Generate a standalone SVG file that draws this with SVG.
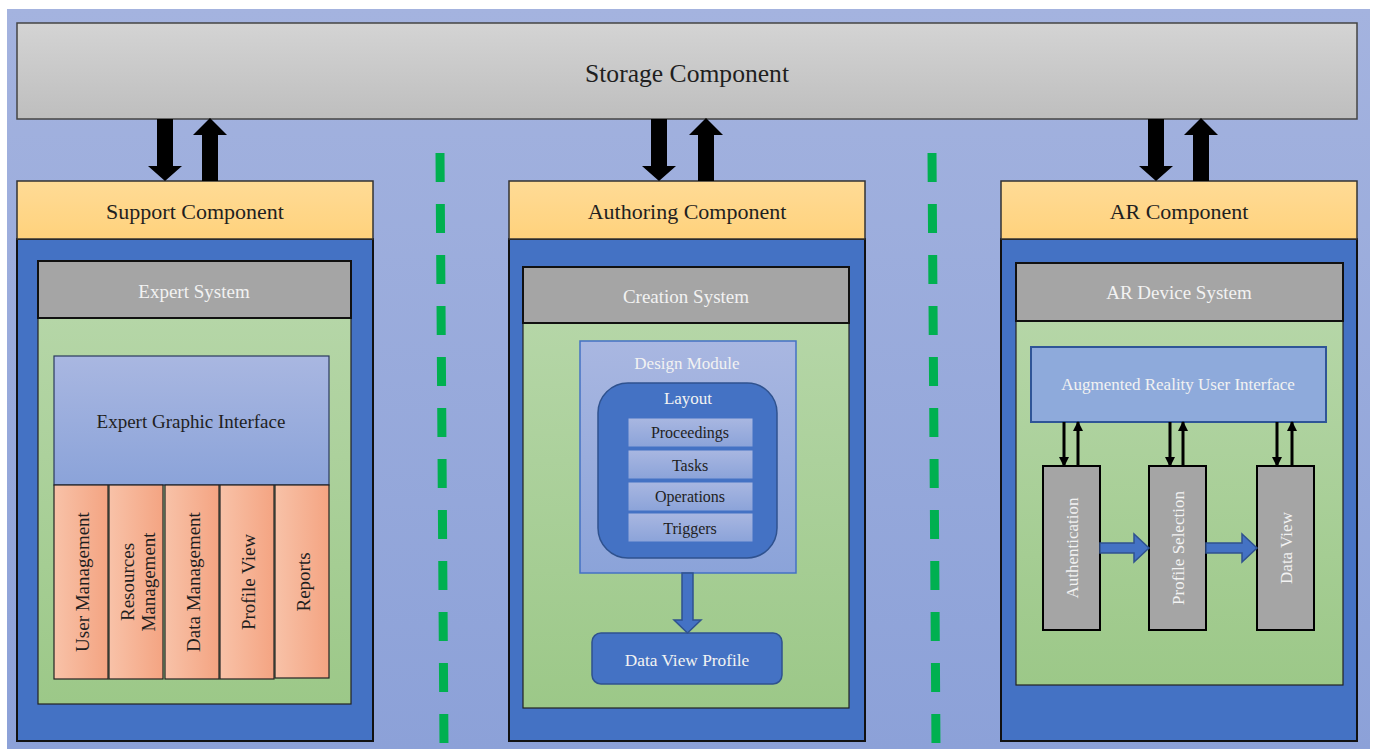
<svg xmlns="http://www.w3.org/2000/svg" width="1373" height="749" viewBox="0 0 1373 749" font-family="'Liberation Serif', 'Times New Roman', Times, serif">
<defs>
<linearGradient id="gBg" x1="0" y1="0" x2="0" y2="1"><stop offset="0" stop-color="#A4B3DF"/><stop offset="1" stop-color="#8CA1D8"/></linearGradient>
<linearGradient id="gStore" x1="0" y1="0" x2="0" y2="1"><stop offset="0" stop-color="#D4D4D4"/><stop offset="1" stop-color="#BEBEBE"/></linearGradient>
<linearGradient id="gHead" x1="0" y1="0" x2="0" y2="1"><stop offset="0" stop-color="#FFDB96"/><stop offset="1" stop-color="#FFD27C"/></linearGradient>
<linearGradient id="gGreen" x1="0" y1="0" x2="0" y2="1"><stop offset="0" stop-color="#B5D6A7"/><stop offset="1" stop-color="#9CC888"/></linearGradient>
<linearGradient id="gLav" x1="0" y1="0" x2="0" y2="1"><stop offset="0" stop-color="#A9B7E1"/><stop offset="1" stop-color="#8BA3D9"/></linearGradient>
<linearGradient id="gSal" x1="0" y1="0" x2="1" y2="0"><stop offset="0" stop-color="#F8C2A8"/><stop offset="1" stop-color="#F4A482"/></linearGradient>
<path id="downArr" d="M-8,119 h16 v47 h9 l-17,15 l-17,-15 h9 z" fill="#000"/>
<path id="upArr" d="M-8,181 v-46 h-9 l17,-17 l17,17 h-9 v46 z" fill="#000"/>
<marker id="mHead" viewBox="0 0 10 10" refX="9" refY="5" markerWidth="3.5" markerHeight="3.5" orient="auto" markerUnits="strokeWidth"><path d="M0,0 L10,5 L0,10 z" fill="#000"/></marker>
</defs>
<style>
text{font-family:'Liberation Serif','Times New Roman',Times,serif;text-anchor:middle;dominant-baseline:central}
.dark{fill:#1F1F1F}
.light{fill:#F2F2F2}
.panel{fill:#4472C4;stroke:#111;stroke-width:2}
.head{fill:url(#gHead);stroke:#333;stroke-width:1.5}
.sys{fill:#A5A5A5;stroke:#111;stroke-width:2}
.green{fill:url(#gGreen);stroke:#222;stroke-width:1.2}
.col{fill:url(#gSal);stroke:#222;stroke-width:1.2}
.item{fill:url(#gLav);stroke:#4472C4;stroke-width:1}
.gbox{fill:#A5A5A5;stroke:#000;stroke-width:2}
.blk{fill:#4472C4;stroke:#2F528F;stroke-width:1.5}
.sm{stroke:#000;stroke-width:3;fill:none;marker-end:url(#mHead)}
.dash{stroke:#00B050;stroke-width:9;stroke-dasharray:29 22;fill:none}
</style>
<rect x="0" y="0" width="1373" height="749" fill="#FFFFFF"/>
<rect x="7" y="9" width="1363" height="740" fill="url(#gBg)"/>

<g id="storage">
<rect x="17" y="23" width="1340" height="96" fill="url(#gStore)" stroke="#444" stroke-width="1.5"/>
<text x="687" y="73" font-size="25.6" class="dark">Storage Component</text>
</g>

<g id="support">
<rect class="panel" x="17" y="239" width="356" height="502"/>
<rect class="head" x="17" y="181" width="356" height="58"/>
<text x="195" y="211" font-size="22" class="dark">Support Component</text>
</g>
<g id="expert-system">
<rect class="green" x="38" y="318" width="313" height="386"/>
<rect class="sys" x="38" y="261" width="313" height="57"/>
<text x="194" y="291" font-size="19" class="light">Expert System</text>
</g>
<g id="expert-gui">
<rect x="54" y="356" width="275" height="129" fill="url(#gLav)" stroke="#2A3A5E" stroke-width="1.2"/>
<text x="191" y="421" font-size="19" class="dark">Expert Graphic Interface</text>
</g>
<g id="user-management">
<rect class="col" x="54" y="485" width="54" height="194"/>
<text transform="translate(82,582) rotate(-90)" font-size="19" class="dark">User Management</text>
</g>
<g id="resources-management">
<rect class="col" x="109" y="485" width="54" height="194"/>
<text transform="translate(137,582) rotate(-90)" font-size="19" class="dark"><tspan x="0" y="-10.5">Resources</tspan><tspan x="0" y="10.5">Management</tspan></text>
</g>
<g id="data-management">
<rect class="col" x="165" y="485" width="54" height="194"/>
<text transform="translate(193,582) rotate(-90)" font-size="19" class="dark">Data Management</text>
</g>
<g id="profile-view">
<rect class="col" x="220" y="485" width="54" height="194"/>
<text transform="translate(248,582) rotate(-90)" font-size="19" class="dark">Profile View</text>
</g>
<g id="reports">
<rect class="col" x="275" y="485" width="54" height="193"/>
<text transform="translate(303,582) rotate(-90)" font-size="19" class="dark">Reports</text>
</g>

<g id="authoring">
<rect class="panel" x="509" y="239" width="356" height="502"/>
<rect class="head" x="509" y="181" width="356" height="58"/>
<text x="687" y="211" font-size="22" class="dark">Authoring Component</text>
</g>
<g id="creation-system">
<rect class="green" x="523" y="323" width="326" height="385"/>
<rect class="sys" x="523" y="267" width="326" height="56"/>
<text x="686" y="296" font-size="19" class="light">Creation System</text>
</g>
<g id="design-module">
<rect x="580" y="341" width="216" height="232" fill="url(#gLav)" stroke="#4472C4" stroke-width="1.5"/>
<text x="687" y="363" font-size="17" class="light">Design Module</text>
</g>
<g id="layout">
<rect x="598" y="383" width="179" height="175" rx="30" fill="#4472C4" stroke="#2F528F" stroke-width="1.5"/>
<text x="688" y="398" font-size="17" class="light">Layout</text>
</g>
<g id="proceedings">
<rect class="item" x="628" y="418" width="125" height="29"/>
<text x="690" y="432" font-size="16" class="dark">Proceedings</text>
</g>
<g id="tasks">
<rect class="item" x="628" y="450" width="125" height="29"/>
<text x="690" y="465" font-size="16" class="dark">Tasks</text>
</g>
<g id="operations">
<rect class="item" x="628" y="482" width="125" height="29"/>
<text x="690" y="496" font-size="16" class="dark">Operations</text>
</g>
<g id="triggers">
<rect class="item" x="628" y="513" width="125" height="29"/>
<text x="690" y="528" font-size="16" class="dark">Triggers</text>
</g>
<g id="data-view-profile">
<rect x="592" y="633" width="190" height="51" rx="9" fill="#4472C4" stroke="#2F528F" stroke-width="1.5"/>
<text x="687" y="660" font-size="17.3" class="light">Data View Profile</text>
</g>

<g id="ar">
<rect class="panel" x="1001" y="239" width="356" height="502"/>
<rect class="head" x="1001" y="181" width="356" height="58"/>
<text x="1179" y="211" font-size="22" class="dark">AR Component</text>
</g>
<g id="ar-device-system">
<rect class="green" x="1016" y="321" width="327" height="364"/>
<rect class="sys" x="1016" y="263" width="327" height="58"/>
<text x="1179" y="292" font-size="19" class="light">AR Device System</text>
</g>
<g id="ar-ui">
<rect x="1031" y="347" width="295" height="75" fill="#8EAADB" stroke="#2F5597" stroke-width="2"/>
<text x="1178" y="384" font-size="17" class="light">Augmented Reality User Interface</text>
</g>
<g id="authentication">
<rect class="gbox" x="1043" y="466" width="57" height="164"/>
<text transform="translate(1072,548) rotate(-90)" font-size="17" class="light">Authentication</text>
</g>
<g id="profile-selection">
<rect class="gbox" x="1149" y="466" width="57" height="164"/>
<text transform="translate(1178,548) rotate(-90)" font-size="17" class="light">Profile Selection</text>
</g>
<g id="data-view">
<rect class="gbox" x="1257" y="466" width="57" height="164"/>
<text transform="translate(1286,548) rotate(-90)" font-size="17" class="light">Data View</text>
</g>

<g id="connectors">
<use href="#downArr" x="165"/>
<use href="#upArr" x="210"/>
<use href="#downArr" x="659"/>
<use href="#upArr" x="706"/>
<use href="#downArr" x="1156"/>
<use href="#upArr" x="1201"/>
<line class="dash" x1="440" y1="153" x2="444" y2="748"/>
<line class="dash" x1="932" y1="153" x2="936" y2="748"/>
<path class="blk" d="M682,573 h11 v47 h8 l-13.5,13 l-13.5,-13 h8 z"/>
<line class="sm" x1="1064" y1="422" x2="1064" y2="466"/>
<line class="sm" x1="1078" y1="466" x2="1078" y2="422"/>
<line class="sm" x1="1170" y1="422" x2="1170" y2="466"/>
<line class="sm" x1="1183" y1="466" x2="1183" y2="422"/>
<line class="sm" x1="1277" y1="422" x2="1277" y2="466"/>
<line class="sm" x1="1292" y1="466" x2="1292" y2="422"/>
<path class="blk" d="M1100,543 h34 v-9 l15,14 l-15,14 v-9 h-34 z"/>
<path class="blk" d="M1206,543 h36 v-9 l15,14 l-15,14 v-9 h-36 z"/>
</g>
</svg>
